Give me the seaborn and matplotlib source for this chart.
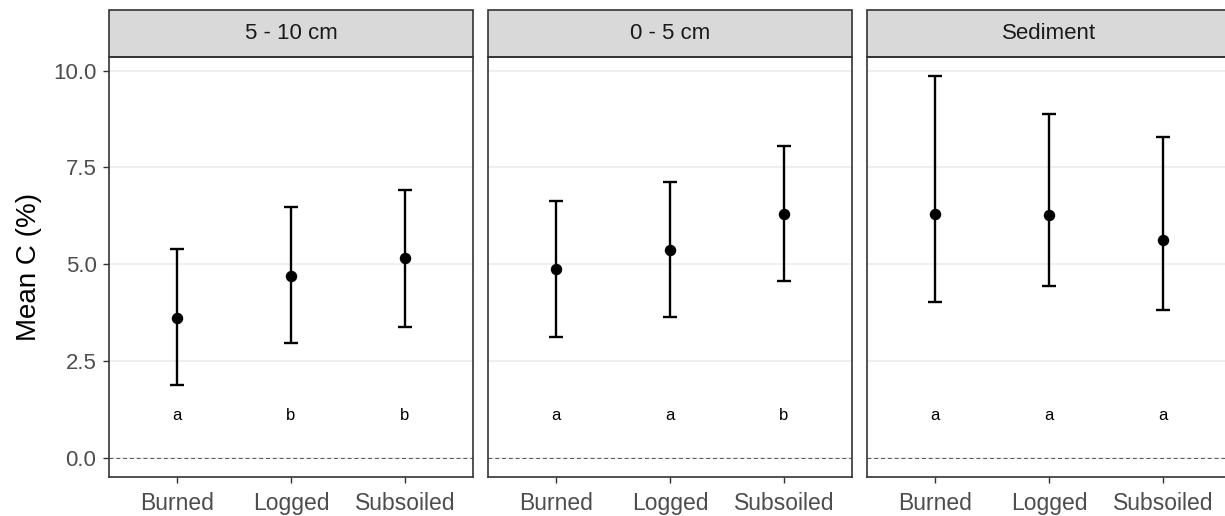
import numpy as np
import pandas as pd
import matplotlib
matplotlib.use("Agg")
import matplotlib.pyplot as plt
from matplotlib.patches import Rectangle
import seaborn as sns

sns.set_style("white")
plt.rcParams['font.family'] = ['Liberation Sans', 'DejaVu Sans']

panels = ['5 - 10 cm', '0 - 5 cm', 'Sediment']
treatments = ['Burned', 'Logged', 'Subsoiled']

mean_c = {
    '5 - 10 cm': [3.62, 4.70, 5.15],
    '0 - 5 cm': [4.87, 5.38, 6.29],
    'Sediment': [6.29, 6.26, 5.62],
}
lower_c = {
    '5 - 10 cm': [1.88, 2.98, 3.38],
    '0 - 5 cm': [3.12, 3.64, 4.56],
    'Sediment': [4.02, 4.43, 3.83],
}
upper_c = {
    '5 - 10 cm': [5.40, 6.49, 6.91],
    '0 - 5 cm': [6.63, 7.13, 8.06],
    'Sediment': [9.86, 8.88, 8.28],
}
letters = {
    '5 - 10 cm': ['a', 'b', 'b'],
    '0 - 5 cm': ['a', 'a', 'b'],
    'Sediment': ['a', 'a', 'a'],
}
letter_y = 1.1

rows = []
for p in panels:
    for i, t in enumerate(treatments):
        rows.append({'panel': p, 'treatment': t, 'mean': mean_c[p][i],
                     'lo': lower_c[p][i], 'hi': upper_c[p][i], 'letter': letters[p][i]})
df = pd.DataFrame(rows)

W, H = 1225, 516
fig = plt.figure(figsize=(W / 100, H / 100), dpi=100)

lefts = [109, 488, 867]
pw = 364
top, bottom = 57, 477
strip_h = 47
edge = '#333333'

for k, p in enumerate(panels):
    ax = fig.add_axes([lefts[k] / W, (H - bottom) / H, pw / W, (bottom - top) / H])
    d = df[df['panel'] == p].reset_index(drop=True)
    x = np.arange(len(d))

    for yv in [0, 2.5, 5, 7.5, 10]:
        ax.axhline(yv, color='#EBEBEB', lw=1.1, zorder=0)
    ax.axhline(0, color='#555555', lw=0.7, ls=(0, (4, 3)), zorder=1)

    ax.errorbar(x, d['mean'], yerr=[d['mean'] - d['lo'], d['hi'] - d['mean']],
                fmt='none', ecolor='black', elinewidth=1.7, capsize=5, capthick=1.7, zorder=2)
    sns.scatterplot(x=x, y=d['mean'], color='black', s=68, edgecolor='black',
                    linewidth=0, ax=ax, zorder=3, legend=False)
    for i, lab in enumerate(d['letter']):
        ax.text(x[i], letter_y, lab, ha='center', va='center', fontsize=12, color='black')

    ax.set_xlim(-0.6, 2.6)
    ax.set_ylim(-0.49, 10.35)
    ax.set_xticks(x)
    ax.set_xticklabels(treatments, fontsize=16.5, color='#4D4D4D')
    ax.set_yticks([0, 2.5, 5, 7.5, 10])
    ax.set_xlabel('')
    if k == 0:
        ax.set_yticklabels(['0.0', '2.5', '5.0', '7.5', '10.0'], fontsize=16, color='#4D4D4D')
        ax.set_ylabel('Mean C (%)', fontsize=20, color='black', labelpad=8)
        ax.tick_params(axis='y', length=4, width=1, color=edge, left=True, pad=5)
    else:
        ax.set_yticklabels([])
        ax.set_ylabel('')
        ax.tick_params(axis='y', length=0)
    ax.tick_params(axis='x', length=4, width=1, color=edge, bottom=True, pad=7)
    for s in ax.spines.values():
        s.set_color(edge)
        s.set_linewidth(1.2)

    sh = strip_h / (bottom - top)
    ax.add_patch(Rectangle((0, 1), 1, sh, transform=ax.transAxes, clip_on=False,
                           facecolor='#D9D9D9', edgecolor=edge, linewidth=1.2))
    ax.text(0.5, 1 + sh / 2, p, transform=ax.transAxes, ha='center', va='center',
            fontsize=16, color='#1A1A1A')

fig.savefig('out.png', dpi=100)
